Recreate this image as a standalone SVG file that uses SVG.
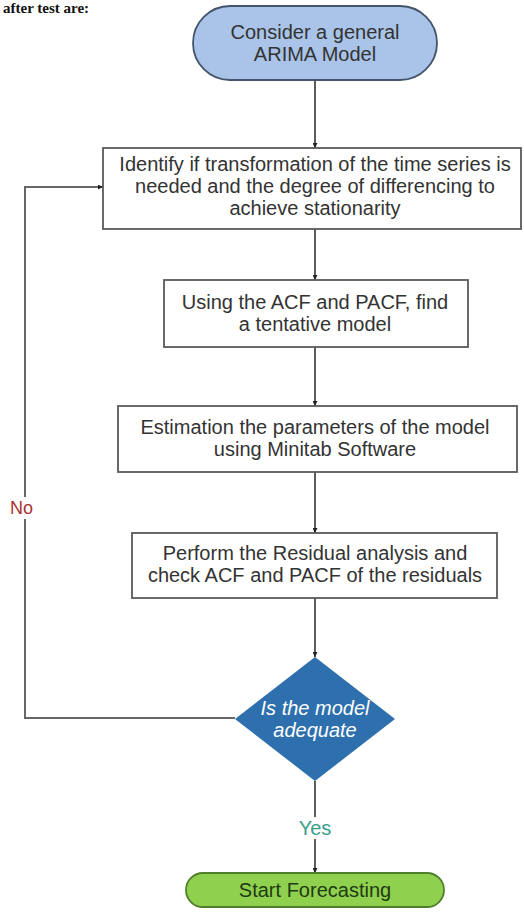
<svg xmlns="http://www.w3.org/2000/svg" width="524" height="914" viewBox="0 0 524 914">
<style>
.box{fill:#fff;stroke:#5a5a5a;stroke-width:1.8}
.t{font-family:"Liberation Sans",Arial,sans-serif;font-size:20px;fill:#333;text-anchor:middle}
.c{fill:none;stroke:#333;stroke-width:1.6}
.loop{fill:none;stroke:#666;stroke-width:2}
</style>
<defs>
<marker id="ah" viewBox="0 0 10 10" refX="10" refY="5" markerWidth="5" markerHeight="5" orient="auto" markerUnits="userSpaceOnUse">
<path d="M0,0 L10,5 L0,10 z" fill="#222"/>
</marker>
</defs>
<rect width="524" height="914" fill="#fff"/>
<text x="3" y="13" font-family="Liberation Serif,serif" font-weight="bold" font-size="15" fill="#111">after test are:</text>
<g id="connectors">
<line class="c" x1="315" y1="80" x2="315" y2="148" marker-end="url(#ah)"/>
<line class="c" x1="315" y1="229" x2="315" y2="280" marker-end="url(#ah)"/>
<line class="c" x1="315" y1="347" x2="315" y2="406" marker-end="url(#ah)"/>
<line class="c" x1="315" y1="472" x2="315" y2="533" marker-end="url(#ah)"/>
<line class="c" x1="315" y1="598" x2="315" y2="657" marker-end="url(#ah)"/>
<line class="c" x1="315" y1="781" x2="315" y2="873" marker-end="url(#ah)"/>
<polyline class="loop" points="235,718 25,718 25,187 103,187" marker-end="url(#ah)"/>
<rect x="8" y="497" width="34" height="22" fill="#fff"/>
<text x="10" y="514" font-family="Liberation Sans,Arial,sans-serif" font-size="18" fill="#a83232">No</text>
<rect x="295" y="817" width="40" height="22" fill="#fff"/>
<text x="315" y="835" font-family="Liberation Sans,Arial,sans-serif" font-size="20" fill="#3a9e8a" text-anchor="middle">Yes</text>
</g>
<g id="start">
<rect x="193" y="6" width="244" height="74" rx="37" fill="#a9c4e8" stroke="#44546a" stroke-width="1.8"/>
<text class="t" x="315" y="39">Consider a general</text>
<text class="t" x="315" y="61">ARIMA Model</text>
</g>
<g id="identify">
<rect class="box" x="103" y="148" width="418" height="81"/>
<text class="t" x="315" y="171">Identify if transformation of the time series is</text>
<text class="t" x="315" y="193">needed and the degree of differencing to</text>
<text class="t" x="315" y="215">achieve stationarity</text>
</g>
<g id="tentative">
<rect class="box" x="164" y="280" width="304" height="67"/>
<text class="t" x="315" y="309">Using the ACF and PACF, find</text>
<text class="t" x="315" y="331">a tentative model</text>
</g>
<g id="estimation">
<rect class="box" x="118" y="406" width="399" height="66"/>
<text class="t" x="315" y="434">Estimation the parameters of the model</text>
<text class="t" x="315" y="456">using Minitab Software</text>
</g>
<g id="residual">
<rect class="box" x="132" y="533" width="365" height="65"/>
<text class="t" x="315" y="560">Perform the Residual analysis and</text>
<text class="t" x="315" y="582">check ACF and PACF of the residuals</text>
</g>
<g id="decision">
<polygon points="315,657 395,719 315,781 235,719" fill="#2e6fad"/>
<text class="t" x="315" y="715" style="fill:#fff;font-style:italic">Is the model</text>
<text class="t" x="315" y="737" style="fill:#fff;font-style:italic">adequate</text>
</g>
<g id="forecast">
<rect x="186" y="873" width="258" height="34" rx="17" fill="#8fd14f" stroke="#4f7f2a" stroke-width="1.8"/>
<text class="t" x="315" y="897" style="fill:#1f3a12">Start Forecasting</text>
</g>
</svg>
